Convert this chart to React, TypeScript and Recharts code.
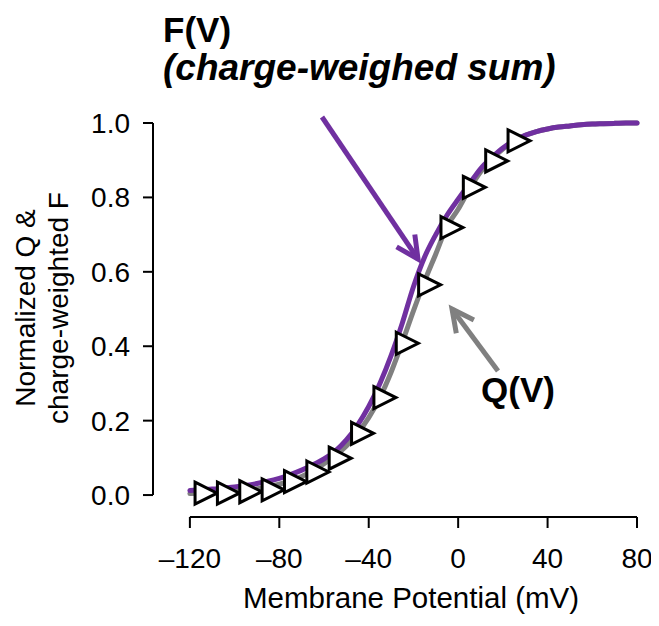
import { ComposedChart, Line, Scatter, XAxis, YAxis, ReferenceLine } from 'recharts'

// membrane potential grid for the fitted curves (mV)
const voltages = [
  -120, -115, -110, -105, -100, -95, -90, -85, -80, -75, -70, -65, -60, -55, -50, -45, -40, -35, -30, -25, -20,
  -15, -10, -5, 0, 5, 10, 15, 20, 25, 30, 35, 40, 45, 50, 55, 60, 65, 70, 75, 80,
]

// F(V): charge-weighted sum of the fluorescence fits
const fValues = [
  0.012, 0.014, 0.016, 0.019, 0.022, 0.026, 0.031, 0.037, 0.045, 0.055, 0.067, 0.081, 0.097, 0.118, 0.148, 0.188,
  0.238, 0.3, 0.375, 0.462, 0.56, 0.64, 0.7, 0.752, 0.795, 0.836, 0.877, 0.907, 0.933, 0.952, 0.967, 0.977, 0.984,
  0.989, 0.992, 0.995, 0.997, 0.998, 0.999, 1.0, 1.0,
]

// Q(V): gating charge fit
const qValues = [
  0.004, 0.005, 0.006, 0.008, 0.01, 0.013, 0.017, 0.022, 0.029, 0.038, 0.05, 0.065, 0.084, 0.106, 0.132, 0.166,
  0.208, 0.262, 0.33, 0.41, 0.495, 0.575, 0.648, 0.722, 0.768, 0.822, 0.868, 0.903, 0.93, 0.952, 0.967, 0.977,
  0.984, 0.989, 0.992, 0.995, 0.997, 0.998, 0.999, 1.0, 1.0,
]

// measured Q-V points (open triangles)
const qPointVolts = [-115, -105, -95, -85, -75, -65, -55, -45, -35, -25, -15, -5, 5, 15, 25]
const qPointValues = [0.005, 0.005, 0.009, 0.014, 0.036, 0.062, 0.099, 0.166, 0.262, 0.408, 0.565, 0.719, 0.827, 0.898, 0.952]

const xTicks = [-120, -80, -40, 0, 40, 80]
const yTicks = [0, 0.2, 0.4, 0.6, 0.8, 1.0]

// axes are drawn detached from the plot, Prism style
const X_LEFT = -136.5
const Y_BOTTOM = -0.059

const PURPLE = '#7030a0'
const GRAY = '#808080'

const curveRows = voltages.map((v, i) => ({ v, f: fValues[i], q: qValues[i] }))
const pointRows = qPointVolts.map((v, i) => ({ v, q: qPointValues[i] }))

function Triangle({ cx, cy }: { cx?: number; cy?: number }) {
  if (cx == null || cy == null) return null
  const l = cx - 6
  return (
    <polygon
      points={`${l},${cy - 11} ${cx + 16},${cy} ${l},${cy + 11}`}
      fill="#fff"
      stroke="#000"
      strokeWidth={3}
      strokeLinejoin="miter"
    />
  )
}

const fmtX = (v: number) => (v < 0 ? `–${-v}` : `${v}`)

export default function App() {
  return (
    <div style={{ position: 'relative', width: 651, height: 618, fontFamily: "'Liberation Sans', Arial, sans-serif" }}>
      <ComposedChart width={651} height={618} data={curveRows} margin={{ top: 115, right: 22, bottom: 39, left: 45 }}>
        <XAxis
          type="number"
          dataKey="v"
          domain={[X_LEFT, 80]}
          ticks={xTicks}
          tickFormatter={fmtX}
          axisLine={false}
          tickLine={{ stroke: '#000', strokeWidth: 2 }}
          tickSize={11}
          tickMargin={20}
          height={70}
          tick={{ fontSize: 28, fill: '#000' }}
        />
        <YAxis
          type="number"
          domain={[Y_BOTTOM, 1]}
          ticks={yTicks}
          tickFormatter={(v: number) => v.toFixed(1)}
          axisLine={false}
          tickLine={{ stroke: '#000', strokeWidth: 2 }}
          tickSize={10}
          tickMargin={13}
          width={100}
          tick={{ fontSize: 28, fill: '#000' }}
        />
        <ReferenceLine segment={[{ x: -120, y: Y_BOTTOM }, { x: 80, y: Y_BOTTOM }]} stroke="#000" strokeWidth={2} />
        <ReferenceLine segment={[{ x: X_LEFT, y: 0 }, { x: X_LEFT, y: 1 }]} stroke="#000" strokeWidth={2} />
        <Line
          type="monotone"
          dataKey="q"
          stroke={GRAY}
          strokeWidth={5}
          strokeLinecap="round"
          dot={false}
          isAnimationActive={false}
        />
        <Line
          type="monotone"
          dataKey="f"
          stroke={PURPLE}
          strokeWidth={5}
          strokeLinecap="round"
          dot={false}
          isAnimationActive={false}
        />
        <Scatter data={pointRows} dataKey="q" shape={Triangle} isAnimationActive={false} />
      </ComposedChart>

      {/* titles, call-out arrows and axis titles */}
      <svg width={651} height={618} style={{ position: 'absolute', left: 0, top: 0, pointerEvents: 'none' }}>
        <text x={155} y={34} fontSize={35} fontWeight="bold">
          F(V)
        </text>
        <text x={155} y={72} fontSize={37} fontWeight="bold" fontStyle="italic">
          (charge-weighed sum)
        </text>
        <g stroke={PURPLE} strokeWidth={5} fill="none">
          <line x1={314} y1={109} x2={410} y2={251} />
          <polyline points="388.6,238.9 410,251 406.8,226.5" strokeLinejoin="miter" />
        </g>
        <g stroke={GRAY} strokeWidth={5} fill="none">
          <line x1={490} y1={363} x2={444} y2={301} />
          <polyline points="448.3,325.3 444,301 465.9,312.1" strokeLinejoin="miter" />
        </g>
        <text x={473} y={394} fontSize={35} fontWeight="bold">
          Q(V)
        </text>
        <text fontSize={28} textAnchor="middle" transform="translate(27,300) rotate(-90)">
          Normalized Q &amp;
        </text>
        <text fontSize={28} textAnchor="middle" transform="translate(60,300) rotate(-90)">
          charge-weighted F
        </text>
        <text x={403} y={600} fontSize={29.5} textAnchor="middle">
          Membrane Potential (mV)
        </text>
      </svg>
    </div>
  )
}
